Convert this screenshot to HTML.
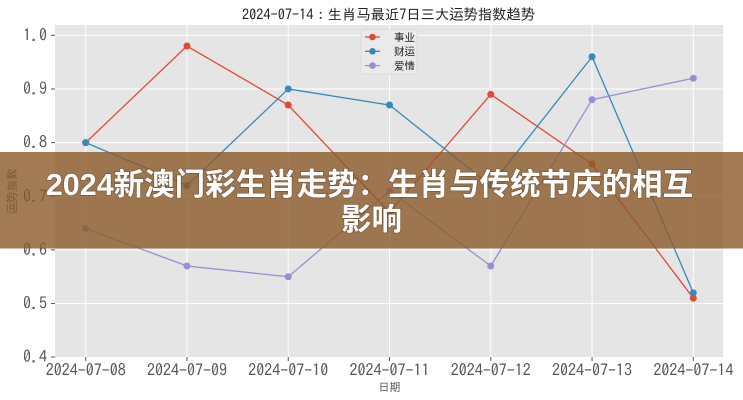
<!DOCTYPE html>
<html><head><meta charset="utf-8"><style>
html,body{margin:0;padding:0;background:#fff;}
svg{display:block;}
</style></head><body>
<svg width="743" height="400" viewBox="0 0 743 400" xmlns="http://www.w3.org/2000/svg">
<rect x="0" y="0" width="743" height="400" fill="#fff"/>
<text x="388.5" y="19.4" text-anchor="middle" font-family="IPAGothic, 'Noto Sans CJK JP', sans-serif" font-size="14.3" fill="#222">2024-07-14：生肖马最近7日三大运势指数趋势</text>
<rect x="55" y="25" width="668" height="332" fill="#E5E5E5"/>
<g stroke="#fff" stroke-width="1">
<line x1="55" x2="723" y1="35.3" y2="35.3"/>
<line x1="55" x2="723" y1="88.95" y2="88.95"/>
<line x1="55" x2="723" y1="142.6" y2="142.6"/>
<line x1="55" x2="723" y1="196.25" y2="196.25"/>
<line x1="55" x2="723" y1="249.9" y2="249.9"/>
<line x1="55" x2="723" y1="303.55" y2="303.55"/>
<line x1="85.7" x2="85.7" y1="25" y2="357"/>
<line x1="186.97" x2="186.97" y1="25" y2="357"/>
<line x1="288.24" x2="288.24" y1="25" y2="357"/>
<line x1="389.51" x2="389.51" y1="25" y2="357"/>
<line x1="490.78" x2="490.78" y1="25" y2="357"/>
<line x1="592.05" x2="592.05" y1="25" y2="357"/>
<line x1="693.32" x2="693.32" y1="25" y2="357"/>
</g>
<g stroke="#555" stroke-width="1">
<line x1="51" x2="55" y1="35.3" y2="35.3"/>
<line x1="51" x2="55" y1="88.95" y2="88.95"/>
<line x1="51" x2="55" y1="142.6" y2="142.6"/>
<line x1="51" x2="55" y1="196.25" y2="196.25"/>
<line x1="51" x2="55" y1="249.9" y2="249.9"/>
<line x1="51" x2="55" y1="303.55" y2="303.55"/>
<line x1="51" x2="55" y1="357" y2="357"/>
<line x1="85.7" x2="85.7" y1="357" y2="361"/>
<line x1="186.97" x2="186.97" y1="357" y2="361"/>
<line x1="288.24" x2="288.24" y1="357" y2="361"/>
<line x1="389.51" x2="389.51" y1="357" y2="361"/>
<line x1="490.78" x2="490.78" y1="357" y2="361"/>
<line x1="592.05" x2="592.05" y1="357" y2="361"/>
<line x1="693.32" x2="693.32" y1="357" y2="361"/>
</g>
<g font-family="IPAGothic, 'Liberation Sans', sans-serif" font-size="16" fill="#555">
<g text-anchor="end">
<text x="47" y="40.9">1.0</text>
<text x="47" y="94.5">0.9</text>
<text x="47" y="148.2">0.8</text>
<text x="47" y="201.8">0.7</text>
<text x="47" y="255.5">0.6</text>
<text x="47" y="309.1">0.5</text>
<text x="47" y="362.6">0.4</text>
</g>
<g text-anchor="middle">
<text x="85.7" y="375.8">2024-07-08</text>
<text x="186.97" y="375.8">2024-07-09</text>
<text x="288.24" y="375.8">2024-07-10</text>
<text x="389.51" y="375.8">2024-07-11</text>
<text x="490.78" y="375.8">2024-07-12</text>
<text x="592.05" y="375.8">2024-07-13</text>
<text x="693.32" y="375.8">2024-07-14</text>
</g>
</g>
<text x="389.5" y="391" text-anchor="middle" font-family="IPAGothic, 'Noto Sans CJK JP', sans-serif" font-size="11" fill="#555">日期</text>
<text transform="translate(16,191.5) rotate(-90)" text-anchor="middle" font-family="IPAGothic, 'Noto Sans CJK JP', sans-serif" font-size="11.5" fill="#555">运势指数</text>

<g fill="none" stroke-width="1.3" stroke-linejoin="round">
<polyline stroke="#E24A33" points="85.7,142.6 186.97,46.03 288.24,105.05 389.51,212.35 490.78,94.32 592.05,164.06 693.32,298.19"/>
<polyline stroke="#348ABD" points="85.7,142.6 186.97,185.5 288.24,88.95 389.51,105.05 490.78,185.5 592.05,56.76 693.32,292.82"/>
<polyline stroke="#988ED5" points="85.7,228.44 186.97,266 288.24,276.73 389.51,190.89 490.78,266 592.05,99.68 693.32,78.22"/>
</g>
<g fill="#E24A33">
<circle cx="85.7" cy="142.6" r="3.5"/><circle cx="186.97" cy="46.03" r="3.5"/><circle cx="288.24" cy="105.05" r="3.5"/><circle cx="389.51" cy="212.35" r="3.5"/><circle cx="490.78" cy="94.32" r="3.5"/><circle cx="592.05" cy="164.06" r="3.5"/><circle cx="693.32" cy="298.19" r="3.5"/>
</g>
<g fill="#348ABD">
<circle cx="85.7" cy="142.6" r="3.5"/><circle cx="186.97" cy="185.5" r="3.5"/><circle cx="288.24" cy="88.95" r="3.5"/><circle cx="389.51" cy="105.05" r="3.5"/><circle cx="490.78" cy="185.5" r="3.5"/><circle cx="592.05" cy="56.76" r="3.5"/><circle cx="693.32" cy="292.82" r="3.5"/>
</g>
<g fill="#988ED5">
<circle cx="85.7" cy="228.44" r="3.5"/><circle cx="186.97" cy="266" r="3.5"/><circle cx="288.24" cy="276.73" r="3.5"/><circle cx="389.51" cy="190.89" r="3.5"/><circle cx="490.78" cy="266" r="3.5"/><circle cx="592.05" cy="99.68" r="3.5"/><circle cx="693.32" cy="78.22" r="3.5"/>
</g>

<rect x="361" y="29.5" width="56" height="44.5" rx="2" fill="#EAEAEA" stroke="#D8D8D8" stroke-width="0.8"/>
<g stroke-width="1.3">
<line x1="365" x2="380" y1="37" y2="37" stroke="#E24A33"/>
<line x1="365" x2="380" y1="51.3" y2="51.3" stroke="#348ABD"/>
<line x1="365" x2="380" y1="65.6" y2="65.6" stroke="#988ED5"/>
</g>
<circle cx="372.5" cy="37" r="3.3" fill="#E24A33"/>
<circle cx="372.5" cy="51.3" r="3.3" fill="#348ABD"/>
<circle cx="372.5" cy="65.6" r="3.3" fill="#988ED5"/>
<g font-family="IPAGothic, 'Noto Sans CJK JP', sans-serif" font-size="10.5" fill="#222">
<text x="394" y="40.8">事业</text>
<text x="394" y="55.1">财运</text>
<text x="394" y="69.4">爱情</text>
</g>

<rect x="0" y="152" width="743" height="96.5" fill="rgb(139,90,43)" fill-opacity="0.8"/>
<g font-family="'Liberation Sans', 'Noto Sans CJK SC', sans-serif" font-weight="700" font-size="30.5" fill="#fff" text-anchor="middle" style="paint-order:stroke" stroke="rgba(60,40,20,0.35)" stroke-width="1.5">
<text x="369.5" y="194.8">2024新澳门彩生肖走势：生肖与传统节庆的相互</text>
<text x="371.5" y="229.8">影响</text>
</g>
</svg>
</body></html>
